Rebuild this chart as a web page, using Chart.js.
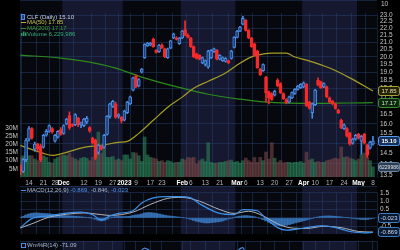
<!DOCTYPE html>
<html>
<head>
<meta charset="utf-8">
<script src="https://cdn.jsdelivr.net/npm/chart.js@4.4.0/dist/chart.umd.min.js"></script>
<style>
html, body { margin: 0; padding: 0; background: #000; width: 400px; height: 250px; overflow: hidden; }
canvas { position: absolute; left: 0; }
#main { top: 0; }
#macd { top: 186px; }
#wr { top: 241px; }
</style>
</head>
<body>
<canvas id="main" width="400" height="186" style="width:400px;height:186px"></canvas>
<canvas id="macd" width="400" height="55" style="width:400px;height:55px"></canvas>
<canvas id="wr" width="400" height="9" style="width:400px;height:9px"></canvas>
<script>
// CLF daily, trading day index 0 = Nov 14 2022 (first candle is day -3)
const firstDay = -3;

const opens = [13.90, 13.65, 14.20, 15.20,
  15.75, 14.70, 14.95, 14.85, 14.80, 15.40, 15.60, 15.75, 15.10,
  15.30, 15.70, 15.50, 16.00, 16.45, 15.95, 15.95, 16.30, 15.95, 15.90,
  16.10, 15.80, 15.25, 15.15, 14.55, 14.85, 14.80, 15.45, 16.40, 16.95,
  17.10, 16.40, 16.35, 16.20, 16.60, 17.10, 17.90, 18.75, 18.15, 19.00,
  19.95, 20.75, 20.80, 21.20, 20.45, 20.35, 20.80, 20.55, 19.95, 20.60,
  21.30, 21.30, 20.90, 21.30, 21.90, 21.50, 21.30, 20.70, 20.20, 20.10,
  19.60, 19.50, 19.35, 19.95, 20.35, 20.45, 19.85, 19.75, 19.70, 19.75,
  19.90, 20.65, 21.35, 21.80, 22.30, 22.60, 21.85, 21.30, 20.90, 20.40,
  19.20, 19.10, 18.70, 17.80, 17.70, 17.60, 18.50, 18.30, 17.70, 17.35,
  17.20, 17.45, 17.70, 17.95, 18.05, 18.10, 18.25, 17.20, 16.60, 17.05,
  18.50, 18.40, 18.10, 18.10, 17.45, 17.25, 17.10, 16.75, 16.20, 15.75,
  15.75, 15.50, 15.00, 15.20, 15.45, 15.10, 15.45, 14.90, 14.75, 14.95];
const highs = [13.95, 14.25, 15.25, 15.85,
  15.80, 15.05, 15.00, 14.95, 15.45, 15.70, 15.95, 15.80, 15.45,
  15.65, 15.80, 15.95, 16.30, 16.65, 16.00, 16.55, 16.35, 16.10, 16.30,
  16.40, 15.85, 15.30, 15.20, 14.95, 14.90, 15.45, 16.45, 17.15, 17.30,
  17.20, 16.55, 16.40, 16.75, 17.25, 17.55, 18.70, 18.85, 18.60, 19.25,
  20.90, 21.00, 21.00, 21.30, 20.50, 20.85, 20.90, 20.60, 20.60, 21.15,
  21.65, 21.40, 21.35, 21.85, 22.55, 21.60, 21.35, 20.75, 20.25, 20.15,
  20.00, 19.80, 20.45, 20.50, 20.60, 20.50, 20.15, 20.00, 19.95, 19.80,
  20.45, 21.40, 21.85, 22.15, 22.90, 22.65, 21.90, 21.35, 20.95, 20.45,
  19.25, 19.55, 18.75, 17.85, 17.75, 17.90, 18.60, 18.35, 17.75, 17.40,
  17.55, 17.80, 18.00, 18.20, 18.30, 18.40, 18.30, 17.25, 17.15, 17.95,
  18.65, 18.45, 18.35, 18.15, 17.50, 17.30, 17.15, 16.80, 16.25, 16.00,
  15.80, 15.55, 15.25, 15.45, 15.50, 15.40, 15.50, 14.95, 15.10, 15.35];
const lows = [13.50, 13.60, 14.10, 15.10,
  15.20, 14.60, 14.60, 14.10, 14.75, 15.35, 15.55, 15.50, 15.05,
  15.25, 15.40, 15.45, 15.95, 15.70, 15.85, 15.90, 15.85, 15.80, 15.85,
  16.00, 15.55, 14.95, 14.20, 14.45, 14.65, 14.75, 15.40, 16.30, 16.90,
  16.30, 16.30, 16.05, 16.15, 16.55, 17.05, 17.85, 18.05, 18.10, 18.95,
  19.90, 20.70, 20.75, 20.65, 20.25, 20.30, 20.55, 19.95, 19.90, 20.55,
  21.25, 21.15, 20.85, 21.25, 21.45, 21.30, 20.65, 19.95, 19.85, 19.80,
  19.55, 19.40, 19.25, 19.90, 20.30, 19.80, 19.80, 19.70, 19.65, 19.55,
  19.85, 20.60, 21.30, 21.75, 22.25, 21.80, 21.25, 20.65, 20.05, 19.25,
  18.80, 19.05, 17.20, 17.10, 17.30, 17.55, 18.10, 17.70, 17.35, 17.10,
  17.15, 17.40, 17.65, 17.90, 18.00, 18.05, 16.95, 16.80, 16.30, 17.00,
  18.15, 18.00, 18.05, 17.45, 17.15, 17.05, 16.80, 16.55, 15.75, 15.70,
  15.30, 14.90, 14.95, 15.15, 15.20, 14.45, 14.95, 14.30, 14.70, 14.90];
const closes = [13.62, 14.20, 15.15, 15.75,
  15.28, 14.95, 14.70, 14.20, 15.40, 15.60, 15.90, 15.58, 15.40,
  15.60, 15.45, 15.90, 16.25, 15.78, 15.90, 16.50, 15.95, 16.05, 16.25,
  16.30, 15.62, 15.00, 14.28, 14.90, 14.70, 15.40, 16.40, 17.10, 17.25,
  16.35, 16.50, 16.15, 16.70, 17.20, 17.50, 18.65, 18.10, 18.55, 19.20,
  20.85, 20.95, 20.95, 20.70, 20.30, 20.80, 20.60, 20.00, 20.55, 21.10,
  21.60, 21.20, 21.30, 21.80, 21.50, 21.35, 20.70, 20.00, 19.90, 19.85,
  19.95, 19.75, 20.40, 20.45, 20.55, 19.85, 20.10, 19.95, 19.90, 19.62,
  20.40, 21.35, 21.80, 22.10, 22.75, 21.85, 21.30, 20.70, 20.10, 19.30,
  18.85, 19.50, 17.75, 17.45, 17.35, 17.85, 18.15, 17.75, 17.40, 17.15,
  17.50, 17.75, 17.95, 18.15, 18.25, 18.35, 17.00, 16.85, 17.10, 17.90,
  18.20, 18.05, 18.30, 17.50, 17.20, 17.10, 16.85, 16.60, 15.80, 15.95,
  15.35, 14.95, 15.20, 15.40, 15.25, 15.35, 15.00, 14.40, 15.05, 15.10];
// volume in millions
const volumes = [12, 13, 15, 13,
  13, 11, 10, 14, 13, 12, 9, 8.5, 11,
  12, 13, 13.5, 13, 14.7, 12, 11, 10, 11.5, 12,
  11.5, 10, 12, 16.5, 27.5, 14.7, 18, 12, 12, 12.5,
  10.4, 11, 10, 13.5, 13.5, 11, 15, 14.7, 13, 9.5,
  24.5, 13.5, 12, 11.6, 11, 9.5, 10, 9, 10, 9.5,
  8.6, 9, 9, 11, 10.5, 12, 11.6, 12, 8, 10,
  11, 9.5, 21, 9, 8.5, 8.6, 9, 9, 9.5, 10,
  10.4, 9, 9.5, 8.6, 10, 11.6, 10, 9, 12, 9,
  12, 10, 15.3, 11, 21, 11.5, 9, 10, 8.6, 9,
  9, 8.6, 9, 9, 9.5, 8.5, 15.3, 10.4, 11, 9,
  9.5, 9, 9, 10, 10.4, 11, 11.6, 11, 18.4, 12,
  12.5, 11.6, 11, 10, 11, 13.5, 14.7, 12, 10, 6.23];

// moving averages
const ma50Days = [-3, 5, 8, 13, 19, 25, 31, 34, 38, 43, 48, 53, 57, 62, 68, 72, 76, 79, 84, 89, 92, 96, 104, 111, 119];
const ma50Vals = [14.89, 14.50, 14.40, 14.55, 14.79, 14.89, 15.04, 15.09, 15.50, 16.19, 16.91, 17.49, 18.02, 18.44, 18.95, 19.46, 19.92, 20.12, 20.26, 20.26, 19.99, 19.79, 19.27, 18.65, 17.85];
const ma200Days = [-3, 11, 21, 30, 39, 53, 62, 73, 80, 90, 100, 110, 119];
const ma200Vals = [20.12, 19.92, 19.66, 19.27, 18.70, 18.02, 17.66, 17.37, 17.23, 17.14, 17.13, 17.15, 17.17];

// MACD(12,26,9)
const macdDays = [-3, 1, 7, 13, 18, 22, 25, 28, 31, 36, 39, 43, 48, 52, 56, 59, 66, 71, 74, 79, 82, 86, 89, 93, 96, 101, 105, 111, 116, 119];
const macdVals = [-0.58, -0.04, 0.12, 0.29, 0.35, 0.20, -0.12, 0.12, 0.27, 0.43, 0.90, 1.20, 1.28, 1.28, 1.20, 0.85, 0.27, 0.20, 0.50, 0.43, -0.04, -0.58, -0.73, -0.66, -0.58, -0.47, -0.53, -0.81, -0.89, -0.869];
const signalDays = [-3, 1, 7, 13, 19, 25, 28, 36, 42, 48, 53, 59, 66, 71, 76, 81, 86, 90, 96, 102, 108, 114, 119];
const signalVals = [-0.60, -0.35, 0.05, 0.22, 0.30, 0.20, 0.15, 0.35, 0.81, 1.17, 1.23, 1.00, 0.50, 0.27, 0.40, 0.12, -0.35, -0.58, -0.63, -0.50, -0.58, -0.81, -0.846];
const histVals = [0.02, 0.10, 0.18, 0.24,
  0.28, 0.30, 0.30, 0.28, 0.27, 0.26, 0.25, 0.22, 0.20,
  0.18, 0.16, 0.15, 0.13, 0.12, 0.11, 0.10, 0.08, 0.07, 0.05,
  0.03, 0.01, -0.03, -0.08, -0.14, -0.18, -0.15, -0.08, 0.00, 0.06,
  0.08, 0.09, 0.08, 0.08, 0.09, 0.10, 0.15, 0.18, 0.20, 0.24,
  0.30, 0.32, 0.32, 0.30, 0.27, 0.24, 0.20, 0.16, 0.13, 0.11,
  0.09, 0.07, 0.05, 0.03, 0.00, -0.04, -0.09, -0.15, -0.20, -0.24,
  -0.27, -0.30, -0.30, -0.28, -0.26, -0.24, -0.22, -0.18, -0.12, -0.06,
  -0.01, 0.04, 0.08, 0.11, 0.13, 0.14, 0.13, 0.10, 0.07, 0.03,
  -0.03, -0.10, -0.18, -0.26, -0.33, -0.40, -0.45, -0.47, -0.47, -0.44,
  -0.40, -0.35, -0.30, -0.26, -0.22, -0.17, -0.12, -0.07, -0.02, 0.02,
  0.06, 0.09, 0.11, 0.12, 0.12, 0.11, 0.10, 0.08, 0.06, 0.04,
  0.02, 0.00, -0.02, -0.05, -0.07, -0.09, -0.10, -0.09, -0.06, -0.023];

// Williams %R(14)
const wrDays = [-3, 4, 10, 18, 23, 28, 33, 37, 40, 42, 45, 50, 54, 58, 62, 67, 71, 74, 76, 80, 85, 90, 95, 99, 104, 111, 115, 119];
const wrVals = [-45, -80, -35, -40, -90, -25, -40, -20, -2, -8, -30, -15, -10, -75, -45, -60, -15, -1, -35, -85, -90, -70, -35, -40, -60, -95, -80, -71.09];

// axis ticks
const tickDays = [0, 5, 9, 12, 19, 24, 29, 33, 37, 42, 46, 53, 56, 61, 66, 72, 75, 80, 85, 90, 95, 99, 104, 109, 114, 119];
const tickText = ['14', '21', '28', 'Dec', '12', '19', '27', '2023', '9', '17', '23', 'Feb', '6', '13', '21', 'Mar', '6', '13', '20', '27', 'Apr', '10', '17', '24', 'May', '8'];
const boldTicks = ['Dec', '2023', 'Feb', 'Mar', 'Apr', 'May'];
const priceTicks = [13.5, 14.0, 14.5, 15.0, 15.5, 16.0, 16.5, 17.0, 17.5, 18.0, 18.5, 19.0, 19.5, 20.0, 20.5, 21.0, 21.5, 22.0, 22.5, 23.0];
const volTicks = [5, 10, 15, 20, 25, 30];
const macdTicks = [1.5, 1.0, 0.5, 0, -0.5];
// first trading day of each month (Nov .. May)
const monthStarts = [-3, 12, 33, 53, 72, 95, 114];

const FONT = 'Liberation Sans';
const GRID = 'rgba(38,66,118,0.45)';
const X_MIN = -3.11, X_MAX = 120.4;
const UP = '#4a8de6', UP_FILL = '#1f3d72', DOWN = '#f52a2a';

const days = opens.map((o, i) => i + firstDay);
const isUp = opens.map((o, i) => closes[i] >= o);

// month shading behind every panel
const bandsPlugin = {
    id: 'bands',
    beforeDraw(chart, args, opts) {
        const { ctx, chartArea: a, scales: { x } } = chart;
        const top = opts.top != null ? opts.top : a.top;
        ctx.save();
        ctx.fillStyle = '#000';
        ctx.fillRect(0, 0, chart.width, chart.height);
        for (let i = 0; i < monthStarts.length; i++) {
            const x0 = i === 0 ? a.left : x.getPixelForValue(monthStarts[i] - 0.5);
            const x1 = i === monthStarts.length - 1 ? a.right : x.getPixelForValue(monthStarts[i + 1] - 0.5);
            ctx.fillStyle = i % 2 ? '#15182e' : '#07080e';
            ctx.fillRect(x0, top, x1 - x0, a.bottom - top);
        }
        ctx.strokeStyle = GRID;
        ctx.beginPath();
        ctx.moveTo(a.left, top + 0.5);
        ctx.lineTo(a.right, top + 0.5);
        ctx.stroke();
        ctx.restore();
    }
};

// little value tags on the right axis
function tag(ctx, y, text, fill, stroke, color, weight, size) {
    ctx.save();
    ctx.beginPath();
    ctx.roundRect(378.5, Math.round(y) - 4.5, 21, 9, 2);
    ctx.fillStyle = fill;
    ctx.fill();
    ctx.strokeStyle = stroke;
    ctx.lineWidth = 1;
    ctx.stroke();
    ctx.fillStyle = color;
    ctx.font = `${weight} ${size}px ${FONT}`;
    ctx.textBaseline = 'middle';
    ctx.textAlign = 'center';
    ctx.fillText(text, 389, Math.round(y) + 0.5);
    ctx.restore();
}

function xAxis(showLabels) {
    return {
        type: 'linear', min: X_MIN, max: X_MAX, offset: false,
        afterBuildTicks: s => { s.ticks = tickDays.map(v => ({ value: v })); },
        afterFit: s => { s.height = showLabels ? 9 : 0; },
        grid: { color: GRID, drawTicks: false },
        border: { display: false },
        ticks: {
            display: showLabels, padding: 2, maxRotation: 0, autoSkip: false,
            callback: v => tickText[tickDays.indexOf(v)],
            color: c => boldTicks.includes(tickText[c.index]) ? '#ffffff' : '#b4b8c4',
            font: c => ({ family: FONT, size: 6.5, weight: boldTicks.includes(tickText[c.index]) ? 'bold' : 'normal' })
        }
    };
}

const mainLegend = {
    id: 'mainLegend',
    afterDraw(chart) {
        const ctx = chart.ctx;
        const y = chart.scales.y, yv = chart.scales.yv;
        ctx.save();
        ctx.font = `6px ${FONT}`;
        ctx.textBaseline = 'middle';
        // candle icon
        ctx.fillStyle = UP_FILL; ctx.strokeStyle = UP;
        ctx.fillRect(21.5, 14.5, 3, 5); ctx.strokeRect(21.5, 14.5, 3, 5);
        ctx.fillStyle = '#c8d2e6'; ctx.fillText('CLF (Daily) 15.10', 27, 17);
        ctx.fillStyle = '#b8b030'; ctx.fillRect(21, 22, 5, 1);
        ctx.fillStyle = '#c8c048'; ctx.fillText('MA(50) 17.85', 27, 22.7);
        ctx.fillStyle = '#2f8a22'; ctx.fillRect(21, 28, 5, 1);
        ctx.fillStyle = '#3aa03a'; ctx.fillText('MA(200) 17.17', 27, 28.5);
        ctx.fillStyle = '#2a9a68'; ctx.fillRect(21, 33, 1.5, 3); ctx.fillRect(23, 31.5, 1.5, 4.5); ctx.fillRect(25, 32.5, 1.5, 3.5);
        ctx.fillStyle = '#2fae78'; ctx.fillText('Volume 6,229,986', 27, 34.2);
        ctx.fillStyle = '#c8c8c8'; ctx.font = `6.5px ${FONT}`; ctx.fillText('10', 381, 4);
        ctx.restore();
        tag(ctx, y.getPixelForValue(17.85), '17.85', '#23230c', '#aaa232', '#e6e2a0', 'normal', 6);
        tag(ctx, y.getPixelForValue(17.17), '17.17', '#0e260e', '#3c8e30', '#c6e6c0', 'normal', 6);
        tag(ctx, y.getPixelForValue(15.10), '15.10', '#16305a', '#5a9ae8', '#ffffff', 'bold', 6);
        tag(ctx, yv.getPixelForValue(6.23), '6229986', '#2c3c50', '#6484a8', '#d8e0ea', 'normal', 5);
    }
};

new Chart(document.getElementById('main'), {
    type: 'bar',
    data: {
        datasets: [
            {
                type: 'line', label: 'MA(50)', yAxisID: 'y', order: 5,
                data: ma50Days.map((d, i) => ({ x: d, y: ma50Vals[i] })),
                borderColor: '#a49c26', borderWidth: 1.2, pointRadius: 0, cubicInterpolationMode: 'monotone'
            },
            {
                type: 'line', label: 'MA(200)', yAxisID: 'y', order: 5,
                data: ma200Days.map((d, i) => ({ x: d, y: ma200Vals[i] })),
                borderColor: '#2c8a1c', borderWidth: 1.2, pointRadius: 0, cubicInterpolationMode: 'monotone'
            },
            {
                label: 'wick', yAxisID: 'y', order: 2, grouped: false, barThickness: 1,
                data: days.map((d, i) => ({ x: d, y: [lows[i], highs[i]] })),
                backgroundColor: isUp.map(u => u ? UP : DOWN)
            },
            {
                label: 'body', yAxisID: 'y', order: 1, grouped: false, barThickness: 3, minBarLength: 1,
                data: days.map((d, i) => ({ x: d, y: [opens[i], closes[i]] })),
                backgroundColor: isUp.map(u => u ? UP_FILL : DOWN),
                borderColor: isUp.map(u => u ? UP : DOWN),
                borderWidth: 1, borderSkipped: false
            },
            {
                label: 'Volume', yAxisID: 'yv', order: 10, grouped: false, barThickness: 3,
                data: days.map((d, i) => ({ x: d, y: volumes[i] })),
                backgroundColor: isUp.map(u => u ? 'rgba(46,140,92,0.55)' : 'rgba(128,74,74,0.55)')
            }
        ]
    },
    options: {
        responsive: false, animation: false, events: [],
        layout: { padding: { top: 13 } },
        plugins: { legend: { display: false }, tooltip: { enabled: false }, bands: { top: 0 } },
        scales: {
            x: xAxis(true),
            y: {
                type: 'logarithmic', position: 'right', min: 13.40, max: 23.154,
                afterBuildTicks: s => { s.ticks = priceTicks.map(v => ({ value: v })); },
                afterFit: s => { s.width = 23; },
                grid: { color: c => (c.tick && Number.isInteger(c.tick.value)) ? GRID : 'rgba(0,0,0,0)', drawTicks: false },
                border: { display: true, color: GRID },
                ticks: { autoSkip: false, padding: 3, crossAlign: 'near', color: '#c8c8c8', font: { family: FONT, size: 6.5 }, callback: v => v.toFixed(1) }
            },
            yv: {
                type: 'linear', position: 'left', min: 0, max: 100.4,
                afterBuildTicks: s => { s.ticks = volTicks.map(v => ({ value: v })); },
                afterFit: s => { s.width = 20; },
                grid: { display: false, drawTicks: false },
                border: { display: true, color: GRID },
                ticks: { autoSkip: false, padding: 2, color: '#c8c8c8', font: { family: FONT, size: 6.5 }, callback: v => v + 'M' }
            }
        }
    },
    plugins: [bandsPlugin, mainLegend]
});

const macdLegend = {
    id: 'macdLegend',
    afterDraw(chart) {
        const ctx = chart.ctx, y = chart.scales.y;
        ctx.save();
        ctx.font = `6px ${FONT}`;
        ctx.textBaseline = 'middle';
        ctx.fillStyle = '#4a8de6'; ctx.fillRect(21, 4, 5, 1);
        let x = 27;
        const parts = [['MACD(12,26,9) ', '#a8bcd8'], ['-0.869, ', '#4a94f0'], ['-0.846, ', '#9fb6d8'], ['-0.023', '#4a94f0']];
        parts.forEach(p => { ctx.fillStyle = p[1]; ctx.fillText(p[0], x, 4.5); x += ctx.measureText(p[0]).width; });
        ctx.restore();
        tag(ctx, y.getPixelForValue(-0.023), '-0.023', '#0c1a30', '#3c7cc4', '#c4daf2', 'normal', 6);
        tag(ctx, y.getPixelForValue(-0.869), '-0.869', '#0c1a30', '#3c7cc4', '#c4daf2', 'normal', 6);
    }
};

new Chart(document.getElementById('macd'), {
    type: 'bar',
    data: {
        datasets: [
            {
                type: 'line', label: 'Signal', order: 2,
                data: signalDays.map((d, i) => ({ x: d, y: signalVals[i] })),
                borderColor: '#b4b4b4', borderWidth: 1, pointRadius: 0, cubicInterpolationMode: 'monotone'
            },
            {
                type: 'line', label: 'MACD', order: 1,
                data: macdDays.map((d, i) => ({ x: d, y: macdVals[i] })),
                borderColor: '#3c90ea', borderWidth: 1.2, pointRadius: 0, cubicInterpolationMode: 'monotone'
            },
            {
                label: 'Histogram', order: 3, grouped: false, barThickness: 3,
                data: days.map((d, i) => ({ x: d, y: histVals[i] })),
                backgroundColor: 'rgba(56,120,190,0.85)'
            }
        ]
    },
    options: {
        responsive: false, animation: false, events: [],
        layout: { padding: { top: 1, left: 20 } },
        plugins: { legend: { display: false }, tooltip: { enabled: false }, bands: { top: 0 } },
        scales: {
            x: xAxis(false),
            y: {
                type: 'linear', position: 'right', min: -0.967, max: 1.498,
                afterBuildTicks: s => { s.ticks = macdTicks.map(v => ({ value: v })); },
                afterFit: s => { s.width = 23; },
                grid: { color: GRID, drawTicks: false },
                border: { display: true, color: GRID },
                ticks: { autoSkip: false, padding: 3, crossAlign: 'near', color: '#c8c8c8', font: { family: FONT, size: 6.5 }, callback: v => v === 0 ? '' : v.toFixed(1) }
            }
        }
    },
    plugins: [bandsPlugin, macdLegend]
});

const wrLegend = {
    id: 'wrLegend',
    afterDraw(chart) {
        const ctx = chart.ctx;
        ctx.save();
        ctx.font = `6px ${FONT}`;
        ctx.textBaseline = 'middle';
        ctx.strokeStyle = '#4a8de6';
        ctx.strokeRect(21.5, 2.5, 4, 4);
        ctx.fillStyle = '#a8bcd8';
        ctx.fillText('Wm%R(14) -71.09', 27, 4.5);
        ctx.restore();
    }
};

new Chart(document.getElementById('wr'), {
    type: 'line',
    data: {
        datasets: [{
            label: 'Wm%R', data: wrDays.map((d, i) => ({ x: d, y: wrVals[i] })),
            borderColor: '#4a8de6', borderWidth: 1.2, pointRadius: 0, cubicInterpolationMode: 'monotone'
        }]
    },
    options: {
        responsive: false, animation: false, events: [],
        layout: { padding: { left: 20 } },
        plugins: { legend: { display: false }, tooltip: { enabled: false }, bands: { top: 0 } },
        scales: {
            x: xAxis(false),
            y: {
                type: 'linear', position: 'right', min: -5.5, max: 10.9,
                afterFit: s => { s.width = 23; },
                grid: { display: false, drawTicks: false },
                border: { display: true, color: GRID },
                ticks: { display: false }
            }
        }
    },
    plugins: [bandsPlugin, wrLegend]
});
</script>
</body>
</html>
